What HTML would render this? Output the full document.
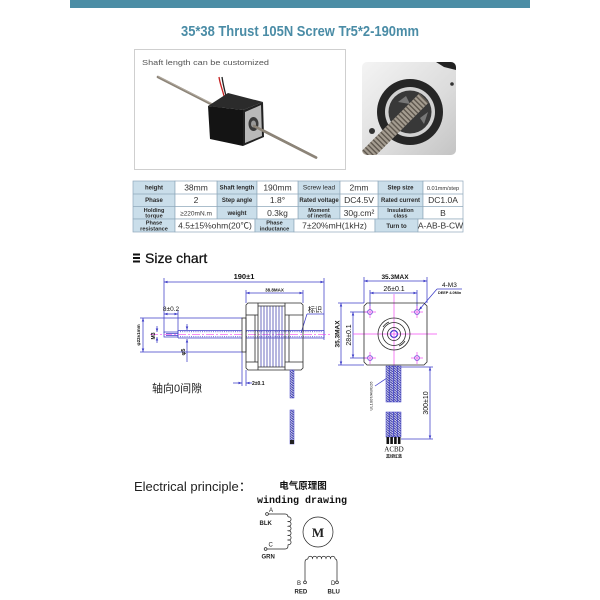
<!DOCTYPE html>
<html><head><meta charset="utf-8"><style>
html,body{margin:0;padding:0;background:#fff;}
svg{display:block;}
text{font-family:"Liberation Sans","Noto Sans CJK SC",sans-serif;}
</style></head><body>
<svg width="600" height="600" viewBox="0 0 600 600" xmlns="http://www.w3.org/2000/svg">
<defs>
<marker id="a" viewBox="0 0 10 10" refX="10" refY="5" markerUnits="userSpaceOnUse" markerWidth="4.5" markerHeight="3.5" orient="auto-start-reverse"><path d="M0,1.5 L10,5 L0,8.5z" fill="#3c3cc8"/></marker>
<pattern id="tw" width="3" height="2.4" patternUnits="userSpaceOnUse"><rect width="3" height="2.4" fill="#c8c8e8"/><path d="M0,0 L3,2.4" stroke="#3a3aa8" stroke-width="1"/></pattern>
<linearGradient id="met" x1="0" y1="0" x2="1" y2="1"><stop offset="0" stop-color="#f4f4f4"/><stop offset="0.6" stop-color="#dcdcdc"/><stop offset="1" stop-color="#c4c4c4"/></linearGradient>
<clipPath id="rp"><rect x="362" y="62" width="94" height="93" rx="5"/></clipPath>
</defs>

<!-- top bar -->
<rect x="70" y="0" width="460" height="8" fill="#4b8da5"/>
<text x="181" y="36" font-size="15" font-weight="bold" fill="#4a8ca6" textLength="238" lengthAdjust="spacingAndGlyphs">35*38 Thrust 105N Screw Tr5*2-190mm</text>

<!-- left photo -->
<rect x="134.5" y="49.5" width="211" height="120" fill="#fff" stroke="#cfcfcf" stroke-width="1"/>
<text x="142" y="65" font-size="7.5" fill="#555" textLength="127" lengthAdjust="spacingAndGlyphs">Shaft length can be customized</text>
<line x1="158" y1="77" x2="316" y2="157.5" stroke="#8c8478" stroke-width="2.6" stroke-linecap="round"/>
<line x1="158" y1="76.3" x2="316" y2="156.8" stroke="#b8b0a4" stroke-width="0.8"/>
<path d="M224,96 C222,88 220,84 219,77" stroke="#c42020" stroke-width="1.3" fill="none"/>
<path d="M226,96 C224,88 223,84 222,77" stroke="#222" stroke-width="1.3" fill="none"/>
<polygon points="208,106 228,93 263,102 243,110" fill="#2b2b2b"/>
<polygon points="208,106 243,110 243,146 210,139" fill="#141414"/>
<polygon points="243,110 263,102 264,137 243,146" fill="#222"/>
<polygon points="245,112 261,105 262,136 245,143" fill="#b9b9b9"/>
<ellipse cx="253.5" cy="124" rx="5" ry="7" fill="#3a3a3a"/>
<ellipse cx="253.5" cy="124" rx="2.5" ry="3.5" fill="#9a9a9a"/>
<line x1="254" y1="126" x2="316" y2="157.5" stroke="#8c8478" stroke-width="2.6" stroke-linecap="round"/>

<!-- right photo -->
<g clip-path="url(#rp)">
<rect x="362" y="62" width="94" height="93" fill="url(#met)"/>
<polygon points="436,62 456,62 456,70 444,67" fill="#222"/>
<circle cx="452" cy="84" r="1.8" fill="#333"/>
<circle cx="410" cy="112" r="33" fill="#262626"/>
<circle cx="410" cy="112" r="25" fill="#d2d2d2"/>
<circle cx="410" cy="112" r="21.5" fill="#383838"/>
<path d="M398,102 L406,96 L410,104z M420,118 L428,112 L424,124z" fill="#777"/>
<circle cx="372" cy="131" r="3" fill="#333"/>
<line x1="424" y1="98" x2="358" y2="164" stroke="#a49c90" stroke-width="13"/>
<line x1="424" y1="98" x2="358" y2="164" stroke="#5e574e" stroke-width="13" stroke-dasharray="1.4 2.2"/>
</g>

<!-- table -->
<g stroke="#8fa9bb" stroke-width="0.7">
<rect x="133" y="181" width="42" height="38" fill="#cadeea"/>
<rect x="217" y="181" width="40" height="38" fill="#cadeea"/>
<rect x="298" y="181" width="42" height="38" fill="#cadeea"/>
<rect x="378" y="181" width="45" height="38" fill="#cadeea"/>
<rect x="175" y="181" width="42" height="38" fill="#fff"/>
<rect x="257" y="181" width="41" height="38" fill="#fff"/>
<rect x="340" y="181" width="38" height="38" fill="#fff"/>
<rect x="423" y="181" width="40" height="38" fill="#fff"/>
<line x1="133" y1="194" x2="463" y2="194"/>
<line x1="133" y1="206.5" x2="463" y2="206.5"/>
<rect x="133" y="219" width="42" height="13" fill="#cadeea"/>
<rect x="175" y="219" width="80" height="13" fill="#fff"/>
<rect x="255" y="219" width="39" height="13" fill="#cadeea"/>
<rect x="294" y="219" width="81" height="13" fill="#fff"/>
<rect x="375" y="219" width="43" height="13" fill="#cadeea"/>
<rect x="418" y="219" width="45" height="13" fill="#fff"/>
</g>
<g font-size="6" font-weight="bold" fill="#2a2a2a" text-anchor="middle">
<text x="154" y="189.6">height</text>
<text x="237" y="189.6">Shaft length</text>
<text x="319" y="189.6" font-weight="normal" font-size="6.5">Screw lead</text>
<text x="400.5" y="189.6">Step size</text>
<text x="154" y="202.2">Phase</text>
<text x="237" y="202.2">Step angle</text>
<text x="319" y="202.2">Rated voltage</text>
<text x="400.5" y="202.2">Rated current</text>
<text x="154" y="212" font-size="5.6">Holding</text>
<text x="154" y="217.6" font-size="5.6">torque</text>
<text x="237" y="215">weight</text>
<text x="319" y="212" font-size="5.6">Moment</text>
<text x="319" y="217.6" font-size="5.6">of inertia</text>
<text x="400.5" y="212" font-size="5.6">Insulation</text>
<text x="400.5" y="217.6" font-size="5.6">class</text>
<text x="154" y="224.6" font-size="5.6">Phase</text>
<text x="154" y="230.4" font-size="5.6">resistance</text>
<text x="274.5" y="224.6" font-size="5.6">Phase</text>
<text x="274.5" y="230.4" font-size="5.6">inductance</text>
<text x="396.5" y="228">Turn to</text>
</g>
<g font-size="8.5" fill="#333" text-anchor="middle">
<text x="196" y="190.6">38mm</text>
<text x="277.5" y="190.6">190mm</text>
<text x="359" y="190.6">2mm</text>
<text x="443" y="189.8" font-size="5.6">0.01mm/step</text>
<text x="196" y="203.2">2</text>
<text x="277.5" y="203.2">1.8°</text>
<text x="359" y="203.2">DC4.5V</text>
<text x="443" y="203.2">DC1.0A</text>
<text x="196" y="215.3" font-size="6.5">≥220mN.m</text>
<text x="277.5" y="215.8">0.3kg</text>
<text x="359" y="215.8">30g.cm²</text>
<text x="443" y="215.8">B</text>
<text x="215" y="228.6">4.5±15%ohm(20℃)</text>
<text x="334.5" y="228.6">7±20%mH(1kHz)</text>
<text x="440.5" y="228.6">A-AB-B-CW</text>
</g>

<!-- Size chart heading -->
<rect x="133" y="253.5" width="7" height="2" fill="#111"/>
<rect x="133" y="257" width="7" height="2" fill="#111"/>
<rect x="133" y="260.5" width="7" height="2" fill="#111"/>
<text x="145" y="263" font-size="14" fill="#111" stroke="#111" stroke-width="0.25">Size chart</text>

<!-- LEFT DRAWING -->
<g stroke="#3c3cc8" stroke-width="0.75" fill="none">
<line x1="164" y1="282" x2="324" y2="282" marker-start="url(#a)" marker-end="url(#a)"/>
<line x1="164" y1="278" x2="164" y2="333"/>
<line x1="324" y1="278" x2="324" y2="340"/>
<line x1="246" y1="293" x2="303" y2="293" marker-start="url(#a)" marker-end="url(#a)"/>
<line x1="246" y1="290" x2="246" y2="303"/>
<line x1="303" y1="290" x2="303" y2="303"/>
<line x1="164" y1="314" x2="178" y2="314" marker-start="url(#a)" marker-end="url(#a)"/>
<line x1="178" y1="310" x2="178" y2="332"/>
<line x1="143" y1="318" x2="143" y2="352" marker-start="url(#a)" marker-end="url(#a)"/>
<line x1="140" y1="318" x2="242" y2="318"/>
<line x1="140" y1="352" x2="242" y2="352"/>
<line x1="157" y1="326" x2="157" y2="332" marker-end="url(#a)"/>
<line x1="157" y1="343" x2="157" y2="337" marker-end="url(#a)"/>
<line x1="187" y1="362" x2="187" y2="339" marker-end="url(#a)"/>
<line x1="187" y1="324" x2="187" y2="330" marker-end="url(#a)"/>
<line x1="233" y1="383" x2="242" y2="383" marker-end="url(#a)"/>
<line x1="252" y1="383" x2="246" y2="383" marker-end="url(#a)"/>
<line x1="242" y1="352" x2="242" y2="386"/>
<line x1="246" y1="370" x2="246" y2="386"/>
<line x1="307" y1="314" x2="324" y2="314"/>
<line x1="307" y1="314" x2="301" y2="333"/>
<rect x="164" y="332" width="14" height="5"/>
<line x1="166" y1="333.5" x2="178" y2="333.5"/>
<line x1="166" y1="335.5" x2="178" y2="335.5"/>
<line x1="178" y1="330.5" x2="324" y2="330.5"/>
<line x1="178" y1="338" x2="324" y2="338"/>
<line x1="178" y1="330.5" x2="178" y2="338"/>
<line x1="324" y1="330.5" x2="324" y2="338"/>
<line x1="180" y1="331.8" x2="322" y2="331.8" stroke-dasharray="1 1.2"/>
<line x1="180" y1="336.7" x2="322" y2="336.7" stroke-dasharray="1 1.2"/>
<line x1="364" y1="281" x2="427" y2="281" marker-start="url(#a)" marker-end="url(#a)"/>
<line x1="364" y1="277" x2="364" y2="303"/>
<line x1="427" y1="277" x2="427" y2="303"/>
<line x1="370" y1="293" x2="417" y2="293" marker-start="url(#a)" marker-end="url(#a)"/>
<line x1="370" y1="290" x2="370" y2="310"/>
<line x1="417" y1="290" x2="417" y2="310"/>
<line x1="341" y1="303" x2="341" y2="365" marker-start="url(#a)" marker-end="url(#a)"/>
<line x1="338" y1="303" x2="364" y2="303"/>
<line x1="338" y1="365" x2="364" y2="365"/>
<line x1="353" y1="312" x2="353" y2="358" marker-start="url(#a)" marker-end="url(#a)"/>
<line x1="350" y1="312" x2="368" y2="312"/>
<line x1="350" y1="358" x2="368" y2="358"/>
<line x1="437" y1="289" x2="462" y2="289"/>
<line x1="437" y1="289" x2="419" y2="310" marker-end="url(#a)"/>
<line x1="430" y1="367" x2="430" y2="439" marker-start="url(#a)" marker-end="url(#a)"/>
<line x1="401" y1="367" x2="433" y2="367"/>
<line x1="401" y1="439" x2="433" y2="439"/>
<line x1="375" y1="386" x2="387" y2="378"/>
<circle cx="370" cy="312" r="2.4"/>
<circle cx="417" cy="312" r="2.4"/>
<circle cx="370" cy="358" r="2.4"/>
<circle cx="417" cy="358" r="2.4"/>
<circle cx="394" cy="334" r="3.5" stroke-width="1.3"/>
</g>

<!-- pink center lines -->
<g stroke="#f04cf0" stroke-width="0.7" fill="none">
<line x1="150" y1="334.3" x2="332" y2="334.3" stroke-dasharray="8 2 2 2"/>
<line x1="353" y1="334" x2="437" y2="334"/>
<line x1="394" y1="294" x2="394" y2="376"/>
<line x1="364" y1="312" x2="376" y2="312"/><line x1="370" y1="306" x2="370" y2="318"/>
<line x1="411" y1="312" x2="423" y2="312"/><line x1="417" y1="306" x2="417" y2="318"/>
<line x1="364" y1="358" x2="376" y2="358"/><line x1="370" y1="352" x2="370" y2="364"/>
<line x1="411" y1="358" x2="423" y2="358"/><line x1="417" y1="352" x2="417" y2="364"/>
</g>

<!-- motor body (left) -->
<g stroke="#2a2a2a" stroke-width="0.8" fill="none">
<rect x="242" y="318" width="4" height="34" fill="#fff"/>
<path d="M248,303 L301,303 L303,305 L303,368 L301,370 L248,370 L246,368 L246,305z"/>
<line x1="255" y1="315" x2="255" y2="362"/>
<line x1="246" y1="315" x2="258" y2="315"/>
<line x1="246" y1="362" x2="258" y2="362"/>
<line x1="258" y1="303" x2="258" y2="370"/>
<line x1="285" y1="303" x2="285" y2="370"/>
<line x1="289" y1="315" x2="289" y2="362"/>
<line x1="285" y1="315" x2="303" y2="315"/>
<line x1="285" y1="362" x2="303" y2="362"/>
<g stroke="#4a4ab0">
<line x1="261" y1="306" x2="261" y2="367"/>
<line x1="264" y1="306" x2="264" y2="367"/>
<line x1="267" y1="306" x2="267" y2="367"/>
<line x1="270" y1="306" x2="270" y2="367"/>
<line x1="273" y1="306" x2="273" y2="367"/>
<line x1="276" y1="306" x2="276" y2="367"/>
<line x1="279" y1="306" x2="279" y2="367"/>
<line x1="282" y1="306" x2="282" y2="367"/>
</g>
<line x1="258" y1="306" x2="285" y2="306"/>
<line x1="258" y1="367" x2="285" y2="367"/>
<path d="M367,303 L424,303 L427,306 L427,362 L424,365 L367,365 L364,362 L364,306z"/>
<circle cx="394" cy="334" r="16"/>
<circle cx="394" cy="334" r="11.5"/>
<circle cx="394" cy="334" r="6.5"/>
<path d="M383,327 A13,13 0 0 1 389,322 M405,341 A13,13 0 0 1 399,346"/>
</g>

<!-- cables -->
<rect x="290" y="370" width="4" height="28" fill="url(#tw)" stroke="#3c3cc8" stroke-width="0.5"/>
<rect x="290" y="410" width="4" height="34" fill="url(#tw)" stroke="#3c3cc8" stroke-width="0.5"/>
<rect x="290" y="440" width="4" height="4" fill="#222"/>
<g stroke="#3c3cc8" stroke-width="0.5">
<rect x="386" y="366" width="3.6" height="36" fill="url(#tw)"/>
<rect x="389.8" y="366" width="3.6" height="36" fill="url(#tw)"/>
<rect x="393.6" y="366" width="3.6" height="36" fill="url(#tw)"/>
<rect x="397.4" y="366" width="3.6" height="36" fill="url(#tw)"/>
<rect x="386" y="412" width="3.6" height="25" fill="url(#tw)"/>
<rect x="389.8" y="412" width="3.6" height="25" fill="url(#tw)"/>
<rect x="393.6" y="412" width="3.6" height="25" fill="url(#tw)"/>
<rect x="397.4" y="412" width="3.6" height="25" fill="url(#tw)"/>
</g>
<g fill="#111">
<rect x="386.5" y="437" width="2.6" height="7"/>
<rect x="390.3" y="437" width="2.6" height="7"/>
<rect x="394.1" y="437" width="2.6" height="7"/>
<rect x="397.9" y="437" width="2.6" height="7"/>
</g>

<!-- drawing texts -->
<g fill="#111">
<text x="244" y="279" font-size="7.5" font-weight="bold" text-anchor="middle">190±1</text>
<text x="274.5" y="291.5" font-size="4.5" font-weight="bold" text-anchor="middle">38.8MAX</text>
<text x="171" y="311" font-size="6.5" text-anchor="middle">8±0.2</text>
<text x="308" y="312" font-size="7">标识</text>
<text x="252" y="385" font-size="5" font-weight="bold">2±0.1</text>
<text transform="translate(140,335) rotate(-90)" font-size="4.5" font-weight="bold" text-anchor="middle">φ22±1mm</text>
<text transform="translate(155,336) rotate(-90)" font-size="5" font-weight="bold" text-anchor="middle">M3</text>
<text transform="translate(185,352) rotate(-90)" font-size="5.5" font-weight="bold" text-anchor="middle">φ5</text>
<text x="152" y="392" font-size="11" fill="#222">轴向0间隙</text>
<text x="395" y="279" font-size="6.5" font-weight="bold" text-anchor="middle">35.3MAX</text>
<text x="394" y="291" font-size="7" text-anchor="middle">26±0.1</text>
<text transform="translate(339.5,334) rotate(-90)" font-size="6.5" font-weight="bold" text-anchor="middle">35.3MAX</text>
<text transform="translate(351,335) rotate(-90)" font-size="7" text-anchor="middle">28±0.1</text>
<text x="442" y="287" font-size="6.5">4-M3</text>
<text x="438" y="294" font-size="3.8" font-weight="bold">DEEP 4.0Min</text>
<text transform="translate(372.5,396) rotate(-90)" font-size="4" text-anchor="middle">UL1007/AWG26</text>
<text transform="translate(428,403) rotate(-90)" font-size="7" text-anchor="middle">300±10</text>
<text x="394" y="451.5" font-size="7" text-anchor="middle" style="font-family:'Liberation Serif',serif">ACBD</text>
<text x="394" y="457.5" font-size="4" font-weight="bold" text-anchor="middle">黑绿红蓝</text>
</g>

<!-- Electrical principle -->
<text x="134" y="491" font-size="13" fill="#222">Electrical principle：</text>
<text x="303" y="489" font-size="9.5" font-weight="bold" text-anchor="middle" fill="#111">电气原理图</text>
<text x="302" y="503" font-size="10" font-weight="bold" text-anchor="middle" fill="#111" style="font-family:'Liberation Mono',monospace">winding drawing</text>
<g stroke="#222" stroke-width="0.7" fill="none">
<circle cx="267" cy="514" r="1.4"/>
<path d="M268.4,514 L285,514 Q288,514 288,517"/>
<path d="M288,517 a2.4,2.4 0 1 1 0,4.6 a2.4,2.4 0 1 1 0,4.6 a2.4,2.4 0 1 1 0,4.6 a2.4,2.4 0 1 1 0,4.6 a2.4,2.4 0 1 1 0,4.6 a2.4,2.4 0 1 1 0,4.6"/>
<path d="M288,544.6 L288,546 Q288,549 285,549 L267,549"/>
<circle cx="265.6" cy="549" r="1.4"/>
<circle cx="318" cy="532" r="15"/>
<path d="M305,581 L305,562 Q305,559 308,559"/>
<path d="M308,559 a2.3,2.3 0 1 1 4.5,0 a2.3,2.3 0 1 1 4.5,0 a2.3,2.3 0 1 1 4.5,0 a2.3,2.3 0 1 1 4.5,0 a2.3,2.3 0 1 1 4.5,0 a2.3,2.3 0 1 1 4.5,0"/>
<path d="M335,559 Q337,559 337,562 L337,581"/>
<circle cx="305" cy="582.4" r="1.4"/>
<circle cx="337" cy="582.4" r="1.4"/>
</g>
<g fill="#222" font-size="6">
<text x="269" y="512">A</text>
<text x="259.5" y="525" font-weight="bold">BLK</text>
<text x="268.5" y="546.5">C</text>
<text x="261.5" y="558.5" font-weight="bold">GRN</text>
<text x="297" y="585">B</text>
<text x="331" y="585">D</text>
<text x="294.5" y="593.5" font-weight="bold">RED</text>
<text x="327.5" y="593.5" font-weight="bold">BLU</text>
<text x="318" y="537" font-size="13" font-weight="bold" text-anchor="middle" style="font-family:'Liberation Serif',serif">M</text>
</g>
</svg>
</body></html>
